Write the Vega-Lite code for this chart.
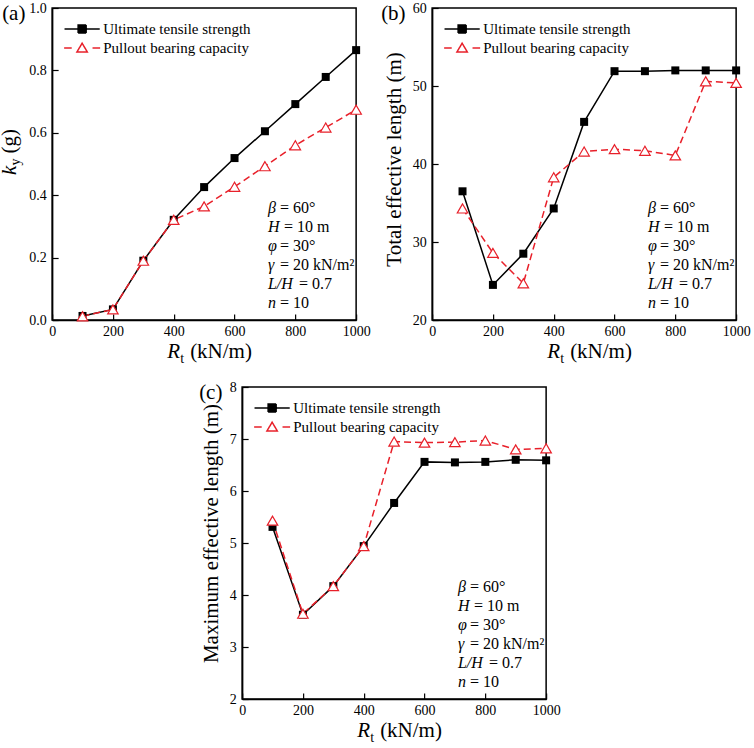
{
  "$schema": "https://vega.github.io/schema/vega-lite/v6.json",
  "padding": {"left": -2, "top": 0, "right": 5, "bottom": 0},
  "datasets": {
    "a": [
      {"Rt": 100, "series": "Ultimate tensile strength", "value": 0.013},
      {"Rt": 200, "series": "Ultimate tensile strength", "value": 0.034},
      {"Rt": 300, "series": "Ultimate tensile strength", "value": 0.19},
      {"Rt": 400, "series": "Ultimate tensile strength", "value": 0.321},
      {"Rt": 500, "series": "Ultimate tensile strength", "value": 0.426},
      {"Rt": 600, "series": "Ultimate tensile strength", "value": 0.519},
      {"Rt": 700, "series": "Ultimate tensile strength", "value": 0.605},
      {"Rt": 800, "series": "Ultimate tensile strength", "value": 0.692},
      {"Rt": 900, "series": "Ultimate tensile strength", "value": 0.779},
      {"Rt": 1000, "series": "Ultimate tensile strength", "value": 0.865},
      {"Rt": 100, "series": "Pullout bearing capacity", "value": 0.012},
      {"Rt": 200, "series": "Pullout bearing capacity", "value": 0.034},
      {"Rt": 300, "series": "Pullout bearing capacity", "value": 0.19},
      {"Rt": 400, "series": "Pullout bearing capacity", "value": 0.321},
      {"Rt": 500, "series": "Pullout bearing capacity", "value": 0.364},
      {"Rt": 600, "series": "Pullout bearing capacity", "value": 0.427},
      {"Rt": 700, "series": "Pullout bearing capacity", "value": 0.493},
      {"Rt": 800, "series": "Pullout bearing capacity", "value": 0.56},
      {"Rt": 900, "series": "Pullout bearing capacity", "value": 0.617},
      {"Rt": 1000, "series": "Pullout bearing capacity", "value": 0.674}
    ],
    "b": [
      {"Rt": 100, "series": "Ultimate tensile strength", "value": 36.5},
      {"Rt": 200, "series": "Ultimate tensile strength", "value": 24.5},
      {"Rt": 300, "series": "Ultimate tensile strength", "value": 28.5},
      {"Rt": 400, "series": "Ultimate tensile strength", "value": 34.3},
      {"Rt": 500, "series": "Ultimate tensile strength", "value": 45.4},
      {"Rt": 600, "series": "Ultimate tensile strength", "value": 51.9},
      {"Rt": 700, "series": "Ultimate tensile strength", "value": 51.9},
      {"Rt": 800, "series": "Ultimate tensile strength", "value": 52.0},
      {"Rt": 900, "series": "Ultimate tensile strength", "value": 52.0},
      {"Rt": 1000, "series": "Ultimate tensile strength", "value": 52.0},
      {"Rt": 100, "series": "Pullout bearing capacity", "value": 34.3},
      {"Rt": 200, "series": "Pullout bearing capacity", "value": 28.6},
      {"Rt": 300, "series": "Pullout bearing capacity", "value": 24.7},
      {"Rt": 400, "series": "Pullout bearing capacity", "value": 38.3},
      {"Rt": 500, "series": "Pullout bearing capacity", "value": 41.6},
      {"Rt": 600, "series": "Pullout bearing capacity", "value": 41.9},
      {"Rt": 700, "series": "Pullout bearing capacity", "value": 41.7},
      {"Rt": 800, "series": "Pullout bearing capacity", "value": 41.1},
      {"Rt": 900, "series": "Pullout bearing capacity", "value": 50.6},
      {"Rt": 1000, "series": "Pullout bearing capacity", "value": 50.4}
    ],
    "c": [
      {"Rt": 100, "series": "Ultimate tensile strength", "value": 5.31},
      {"Rt": 200, "series": "Ultimate tensile strength", "value": 3.62},
      {"Rt": 300, "series": "Ultimate tensile strength", "value": 4.17},
      {"Rt": 400, "series": "Ultimate tensile strength", "value": 4.94},
      {"Rt": 500, "series": "Ultimate tensile strength", "value": 5.77},
      {"Rt": 600, "series": "Ultimate tensile strength", "value": 6.56},
      {"Rt": 700, "series": "Ultimate tensile strength", "value": 6.55},
      {"Rt": 800, "series": "Ultimate tensile strength", "value": 6.56},
      {"Rt": 900, "series": "Ultimate tensile strength", "value": 6.6},
      {"Rt": 1000, "series": "Ultimate tensile strength", "value": 6.59},
      {"Rt": 100, "series": "Pullout bearing capacity", "value": 5.43},
      {"Rt": 200, "series": "Pullout bearing capacity", "value": 3.64},
      {"Rt": 300, "series": "Pullout bearing capacity", "value": 4.17},
      {"Rt": 400, "series": "Pullout bearing capacity", "value": 4.94},
      {"Rt": 500, "series": "Pullout bearing capacity", "value": 6.95},
      {"Rt": 600, "series": "Pullout bearing capacity", "value": 6.93},
      {"Rt": 700, "series": "Pullout bearing capacity", "value": 6.94},
      {"Rt": 800, "series": "Pullout bearing capacity", "value": 6.97},
      {"Rt": 900, "series": "Pullout bearing capacity", "value": 6.8},
      {"Rt": 1000, "series": "Pullout bearing capacity", "value": 6.82}
    ]
  },
  "center": true,
  "spacing": 12,
  "resolve": {"scale": {"color": "independent"}, "legend": {"color": "independent"}},
  "vconcat": [
    {
      "bounds": "flush",
      "spacing": 76,
      "resolve": {"scale": {"color": "independent"}, "legend": {"color": "independent"}},
      "hconcat": [
        {
          "width": 304,
          "height": 312,
          "data": {"name": "a"},
          "resolve": {"scale": {"color": "independent"}, "legend": {"color": "independent"}},
          "layer": [
            {"transform": [{"filter": "datum.series === 'Ultimate tensile strength'"}],
             "mark": {"type": "line", "strokeWidth": 1.5},
             "encoding": {
               "x": {"field": "Rt", "type": "quantitative", "scale": {"domain": [0, 1000], "nice": false},
                     "axis": {"title": null, "format": "d", "values": [0, 100, 200, 300, 400, 500, 600, 700, 800, 900, 1000],
                              "labelExpr": "datum.value % 200 === 0 ? datum.label : ''",
                              "tickSize": {"condition": {"test": "datum.value % 200 !== 0", "value": -3}, "value": -6}}},
               "y": {"field": "value", "type": "quantitative", "scale": {"domain": [0, 1], "nice": false},
                     "axis": {"title": null, "format": ".1f", "values": [0, 0.1, 0.2, 0.3, 0.4, 0.5, 0.6, 0.7, 0.8, 0.9, 1],
                              "labelExpr": "round(datum.value * 10) % 2 === 0 ? datum.label : ''",
                              "tickSize": {"condition": {"test": "round(datum.value * 10) % 2 !== 0", "value": -3}, "value": -6}}},
               "color": {"field": "series", "type": "nominal", "scale": {"range": ["black"]},
                 "legend": {"title": null, "orient": "none", "legendX": 21, "legendY": 12,
                            "symbolType": "M-2.2,0H2.2M-0.5,-0.5H0.5V0.5H-0.5Z",
                            "encode": {"symbols": {"update": {"fill": {"value": "black"}, "strokeDash": {"value": [1, 0]}}}}}}}},
            {"transform": [{"filter": "datum.series === 'Pullout bearing capacity'"}],
             "mark": {"type": "line", "strokeWidth": 1.5, "strokeDash": [7, 4]},
             "encoding": {
               "x": {"field": "Rt", "type": "quantitative"},
               "y": {"field": "value", "type": "quantitative"},
               "color": {"field": "series", "type": "nominal", "scale": {"range": ["#e8202a"]},
                 "legend": {"title": null, "orient": "none", "legendX": 21, "legendY": 31,
                            "symbolType": "M-2.25,0H-1.3M1.3,0H2.25M0,-0.6L0.65,0.5H-0.65Z",
                            "encode": {"symbols": {"update": {"fill": {"value": "white"}, "strokeDash": {"value": [1, 0]}}}}}}}},
            {"transform": [{"filter": "datum.series === 'Ultimate tensile strength'"}],
             "mark": {"type": "point", "shape": "square", "size": 64, "filled": true, "color": "black", "opacity": 1},
             "encoding": {"x": {"field": "Rt", "type": "quantitative"}, "y": {"field": "value", "type": "quantitative"}}},
            {"transform": [{"filter": "datum.series === 'Pullout bearing capacity'"}],
             "mark": {"type": "point", "shape": "triangle-up", "size": 110, "filled": true, "fill": "white", "stroke": "#e8202a", "strokeWidth": 1.2, "opacity": 1},
             "encoding": {"x": {"field": "Rt", "type": "quantitative"}, "y": {"field": "value", "type": "quantitative"}}},
            {"data": {"values": [{}]},
             "mark": {"type": "text", "text": "(a)", "fontSize": 21, "align": "left", "baseline": "alphabetic", "dx": -50, "dy": 12},
             "encoding": {"x": {"datum": 0}, "y": {"datum": 1}}},
            {"data": {"values": [{}]},
             "mark": {"type": "text", "fontStyle": "italic", "fontSize": 16, "align": "left", "baseline": "alphabetic", "lineHeight": 19,
                      "text": ["β", "H", "φ", "γ", "L/H", "n"]},
             "encoding": {"x": {"datum": 710}, "y": {"datum": 0.343}}},
            {"data": {"values": [{}]},
             "mark": {"type": "text", "text": "= 60°", "fontSize": 16, "align": "left", "baseline": "alphabetic", "dx": 12, "dy": 0},
             "encoding": {"x": {"datum": 710}, "y": {"datum": 0.343}}},
            {"data": {"values": [{}]},
             "mark": {"type": "text", "text": "= 10 m", "fontSize": 16, "align": "left", "baseline": "alphabetic", "dx": 16, "dy": 19},
             "encoding": {"x": {"datum": 710}, "y": {"datum": 0.343}}},
            {"data": {"values": [{}]},
             "mark": {"type": "text", "text": "= 30°", "fontSize": 16, "align": "left", "baseline": "alphabetic", "dx": 12, "dy": 38},
             "encoding": {"x": {"datum": 710}, "y": {"datum": 0.343}}},
            {"data": {"values": [{}]},
             "mark": {"type": "text", "text": "= 20 kN/m²", "fontSize": 16, "align": "left", "baseline": "alphabetic", "dx": 12, "dy": 57},
             "encoding": {"x": {"datum": 710}, "y": {"datum": 0.343}}},
            {"data": {"values": [{}]},
             "mark": {"type": "text", "text": "= 0.7", "fontSize": 16, "align": "left", "baseline": "alphabetic", "dx": 31, "dy": 76},
             "encoding": {"x": {"datum": 710}, "y": {"datum": 0.343}}},
            {"data": {"values": [{}]},
             "mark": {"type": "text", "text": "= 10", "fontSize": 16, "align": "left", "baseline": "alphabetic", "dx": 12, "dy": 95},
             "encoding": {"x": {"datum": 710}, "y": {"datum": 0.343}}},
            {"data": {"values": [{}]},
             "mark": {"type": "text", "text": "R", "fontStyle": "italic", "fontSize": 21, "align": "left", "baseline": "alphabetic", "dx": -37, "dy": 38},
             "encoding": {"x": {"datum": 500}, "y": {"datum": 0}}},
            {"data": {"values": [{}]},
             "mark": {"type": "text", "text": "t", "fontSize": 14, "align": "left", "baseline": "alphabetic", "dx": -24, "dy": 43},
             "encoding": {"x": {"datum": 500}, "y": {"datum": 0}}},
            {"data": {"values": [{}]},
             "mark": {"type": "text", "text": "(kN/m)", "fontSize": 21, "align": "left", "baseline": "alphabetic", "dx": -14, "dy": 38},
             "encoding": {"x": {"datum": 500}, "y": {"datum": 0}}},
            {"data": {"values": [{}]},
             "mark": {"type": "text", "text": "k", "fontStyle": "italic", "fontSize": 21, "angle": 270, "align": "left", "baseline": "alphabetic", "dx": -11, "dy": -36},
             "encoding": {"x": {"datum": 0}, "y": {"datum": 0.5}}},
            {"data": {"values": [{}]},
             "mark": {"type": "text", "text": "y", "fontSize": 14, "angle": 270, "align": "left", "baseline": "alphabetic", "dx": -1.5, "dy": -32},
             "encoding": {"x": {"datum": 0}, "y": {"datum": 0.5}}},
            {"data": {"values": [{}]},
             "mark": {"type": "text", "text": "(g)", "fontSize": 21, "angle": 270, "align": "left", "baseline": "alphabetic", "dx": 10.5, "dy": -36},
             "encoding": {"x": {"datum": 0}, "y": {"datum": 0.5}}}
          ]
        },
        {
          "width": 304,
          "height": 312,
          "data": {"name": "b"},
          "resolve": {"scale": {"color": "independent"}, "legend": {"color": "independent"}},
          "layer": [
            {"transform": [{"filter": "datum.series === 'Ultimate tensile strength'"}],
             "mark": {"type": "line", "strokeWidth": 1.5},
             "encoding": {
               "x": {"field": "Rt", "type": "quantitative", "scale": {"domain": [0, 1000], "nice": false},
                     "axis": {"title": null, "format": "d", "values": [0, 100, 200, 300, 400, 500, 600, 700, 800, 900, 1000],
                              "labelExpr": "datum.value % 200 === 0 ? datum.label : ''",
                              "tickSize": {"condition": {"test": "datum.value % 200 !== 0", "value": -3}, "value": -6}}},
               "y": {"field": "value", "type": "quantitative", "scale": {"domain": [20, 60], "nice": false},
                     "axis": {"title": "Total effective length (m)", "titlePadding": 8, "titleY": 151, "format": "d",
                              "values": [20, 22.5, 25, 27.5, 30, 32.5, 35, 37.5, 40, 42.5, 45, 47.5, 50, 52.5, 55, 57.5, 60],
                              "labelExpr": "datum.value % 5 === 0 ? datum.label : ''",
                              "tickSize": {"condition": {"test": "datum.value % 5 !== 0", "value": -3}, "value": -6}}},
               "color": {"field": "series", "type": "nominal", "scale": {"range": ["black"]},
                 "legend": {"title": null, "orient": "none", "legendX": 21, "legendY": 12,
                            "symbolType": "M-2.2,0H2.2M-0.5,-0.5H0.5V0.5H-0.5Z",
                            "encode": {"symbols": {"update": {"fill": {"value": "black"}, "strokeDash": {"value": [1, 0]}}}}}}}},
            {"transform": [{"filter": "datum.series === 'Pullout bearing capacity'"}],
             "mark": {"type": "line", "strokeWidth": 1.5, "strokeDash": [7, 4]},
             "encoding": {
               "x": {"field": "Rt", "type": "quantitative"},
               "y": {"field": "value", "type": "quantitative"},
               "color": {"field": "series", "type": "nominal", "scale": {"range": ["#e8202a"]},
                 "legend": {"title": null, "orient": "none", "legendX": 21, "legendY": 31,
                            "symbolType": "M-2.25,0H-1.3M1.3,0H2.25M0,-0.6L0.65,0.5H-0.65Z",
                            "encode": {"symbols": {"update": {"fill": {"value": "white"}, "strokeDash": {"value": [1, 0]}}}}}}}},
            {"transform": [{"filter": "datum.series === 'Ultimate tensile strength'"}],
             "mark": {"type": "point", "shape": "square", "size": 64, "filled": true, "color": "black", "opacity": 1},
             "encoding": {"x": {"field": "Rt", "type": "quantitative"}, "y": {"field": "value", "type": "quantitative"}}},
            {"transform": [{"filter": "datum.series === 'Pullout bearing capacity'"}],
             "mark": {"type": "point", "shape": "triangle-up", "size": 110, "filled": true, "fill": "white", "stroke": "#e8202a", "strokeWidth": 1.2, "opacity": 1},
             "encoding": {"x": {"field": "Rt", "type": "quantitative"}, "y": {"field": "value", "type": "quantitative"}}},
            {"data": {"values": [{}]},
             "mark": {"type": "text", "text": "(b)", "fontSize": 21, "align": "left", "baseline": "alphabetic", "dx": -51, "dy": 12},
             "encoding": {"x": {"datum": 0}, "y": {"datum": 60}}},
            {"data": {"values": [{}]},
             "mark": {"type": "text", "fontStyle": "italic", "fontSize": 16, "align": "left", "baseline": "alphabetic", "lineHeight": 19,
                      "text": ["β", "H", "φ", "γ", "L/H", "n"]},
             "encoding": {"x": {"datum": 710}, "y": {"datum": 33.72}}},
            {"data": {"values": [{}]},
             "mark": {"type": "text", "text": "= 60°", "fontSize": 16, "align": "left", "baseline": "alphabetic", "dx": 12, "dy": 0},
             "encoding": {"x": {"datum": 710}, "y": {"datum": 33.72}}},
            {"data": {"values": [{}]},
             "mark": {"type": "text", "text": "= 10 m", "fontSize": 16, "align": "left", "baseline": "alphabetic", "dx": 16, "dy": 19},
             "encoding": {"x": {"datum": 710}, "y": {"datum": 33.72}}},
            {"data": {"values": [{}]},
             "mark": {"type": "text", "text": "= 30°", "fontSize": 16, "align": "left", "baseline": "alphabetic", "dx": 12, "dy": 38},
             "encoding": {"x": {"datum": 710}, "y": {"datum": 33.72}}},
            {"data": {"values": [{}]},
             "mark": {"type": "text", "text": "= 20 kN/m²", "fontSize": 16, "align": "left", "baseline": "alphabetic", "dx": 12, "dy": 57},
             "encoding": {"x": {"datum": 710}, "y": {"datum": 33.72}}},
            {"data": {"values": [{}]},
             "mark": {"type": "text", "text": "= 0.7", "fontSize": 16, "align": "left", "baseline": "alphabetic", "dx": 31, "dy": 76},
             "encoding": {"x": {"datum": 710}, "y": {"datum": 33.72}}},
            {"data": {"values": [{}]},
             "mark": {"type": "text", "text": "= 10", "fontSize": 16, "align": "left", "baseline": "alphabetic", "dx": 12, "dy": 95},
             "encoding": {"x": {"datum": 710}, "y": {"datum": 33.72}}},
            {"data": {"values": [{}]},
             "mark": {"type": "text", "text": "R", "fontStyle": "italic", "fontSize": 21, "align": "left", "baseline": "alphabetic", "dx": -37, "dy": 38},
             "encoding": {"x": {"datum": 500}, "y": {"datum": 20}}},
            {"data": {"values": [{}]},
             "mark": {"type": "text", "text": "t", "fontSize": 14, "align": "left", "baseline": "alphabetic", "dx": -24, "dy": 43},
             "encoding": {"x": {"datum": 500}, "y": {"datum": 20}}},
            {"data": {"values": [{}]},
             "mark": {"type": "text", "text": "(kN/m)", "fontSize": 21, "align": "left", "baseline": "alphabetic", "dx": -14, "dy": 38},
             "encoding": {"x": {"datum": 500}, "y": {"datum": 20}}}
          ]
        }
      ]
    },
    {
      "width": 304,
      "height": 312,
      "data": {"name": "c"},
      "resolve": {"scale": {"color": "independent"}, "legend": {"color": "independent"}},
      "layer": [
        {"transform": [{"filter": "datum.series === 'Ultimate tensile strength'"}],
         "mark": {"type": "line", "strokeWidth": 1.5},
         "encoding": {
           "x": {"field": "Rt", "type": "quantitative", "scale": {"domain": [0, 1000], "nice": false},
                 "axis": {"title": null, "format": "d", "values": [0, 100, 200, 300, 400, 500, 600, 700, 800, 900, 1000],
                          "labelExpr": "datum.value % 200 === 0 ? datum.label : ''",
                          "tickSize": {"condition": {"test": "datum.value % 200 !== 0", "value": -3}, "value": -6}}},
           "y": {"field": "value", "type": "quantitative", "scale": {"domain": [2, 8], "nice": false},
                 "axis": {"title": "Maximum effective length (m)", "titlePadding": 8, "titleY": 146, "format": "d",
                          "values": [2, 2.5, 3, 3.5, 4, 4.5, 5, 5.5, 6, 6.5, 7, 7.5, 8],
                          "labelExpr": "datum.value % 1 === 0 ? datum.label : ''",
                          "tickSize": {"condition": {"test": "datum.value % 1 !== 0", "value": -3}, "value": -6}}},
           "color": {"field": "series", "type": "nominal", "scale": {"range": ["black"]},
             "legend": {"title": null, "orient": "none", "legendX": 21, "legendY": 12,
                        "symbolType": "M-2.2,0H2.2M-0.5,-0.5H0.5V0.5H-0.5Z",
                        "encode": {"symbols": {"update": {"fill": {"value": "black"}, "strokeDash": {"value": [1, 0]}}}}}}}},
        {"transform": [{"filter": "datum.series === 'Pullout bearing capacity'"}],
         "mark": {"type": "line", "strokeWidth": 1.5, "strokeDash": [7, 4]},
         "encoding": {
           "x": {"field": "Rt", "type": "quantitative"},
           "y": {"field": "value", "type": "quantitative"},
           "color": {"field": "series", "type": "nominal", "scale": {"range": ["#e8202a"]},
             "legend": {"title": null, "orient": "none", "legendX": 21, "legendY": 31,
                        "symbolType": "M-2.25,0H-1.3M1.3,0H2.25M0,-0.6L0.65,0.5H-0.65Z",
                        "encode": {"symbols": {"update": {"fill": {"value": "white"}, "strokeDash": {"value": [1, 0]}}}}}}}},
        {"transform": [{"filter": "datum.series === 'Ultimate tensile strength'"}],
         "mark": {"type": "point", "shape": "square", "size": 64, "filled": true, "color": "black", "opacity": 1},
         "encoding": {"x": {"field": "Rt", "type": "quantitative"}, "y": {"field": "value", "type": "quantitative"}}},
        {"transform": [{"filter": "datum.series === 'Pullout bearing capacity'"}],
         "mark": {"type": "point", "shape": "triangle-up", "size": 110, "filled": true, "fill": "white", "stroke": "#e8202a", "strokeWidth": 1.2, "opacity": 1},
         "encoding": {"x": {"field": "Rt", "type": "quantitative"}, "y": {"field": "value", "type": "quantitative"}}},
        {"data": {"values": [{}]},
         "mark": {"type": "text", "text": "(c)", "fontSize": 21, "align": "left", "baseline": "alphabetic", "dx": -43, "dy": 12},
         "encoding": {"x": {"datum": 0}, "y": {"datum": 8}}},
        {"data": {"values": [{}]},
         "mark": {"type": "text", "fontStyle": "italic", "fontSize": 16, "align": "left", "baseline": "alphabetic", "lineHeight": 19,
                  "text": ["β", "H", "φ", "γ", "L/H", "n"]},
         "encoding": {"x": {"datum": 710}, "y": {"datum": 4.058}}},
        {"data": {"values": [{}]},
         "mark": {"type": "text", "text": "= 60°", "fontSize": 16, "align": "left", "baseline": "alphabetic", "dx": 12, "dy": 0},
         "encoding": {"x": {"datum": 710}, "y": {"datum": 4.058}}},
        {"data": {"values": [{}]},
         "mark": {"type": "text", "text": "= 10 m", "fontSize": 16, "align": "left", "baseline": "alphabetic", "dx": 16, "dy": 19},
         "encoding": {"x": {"datum": 710}, "y": {"datum": 4.058}}},
        {"data": {"values": [{}]},
         "mark": {"type": "text", "text": "= 30°", "fontSize": 16, "align": "left", "baseline": "alphabetic", "dx": 12, "dy": 38},
         "encoding": {"x": {"datum": 710}, "y": {"datum": 4.058}}},
        {"data": {"values": [{}]},
         "mark": {"type": "text", "text": "= 20 kN/m²", "fontSize": 16, "align": "left", "baseline": "alphabetic", "dx": 12, "dy": 57},
         "encoding": {"x": {"datum": 710}, "y": {"datum": 4.058}}},
        {"data": {"values": [{}]},
         "mark": {"type": "text", "text": "= 0.7", "fontSize": 16, "align": "left", "baseline": "alphabetic", "dx": 31, "dy": 76},
         "encoding": {"x": {"datum": 710}, "y": {"datum": 4.058}}},
        {"data": {"values": [{}]},
         "mark": {"type": "text", "text": "= 10", "fontSize": 16, "align": "left", "baseline": "alphabetic", "dx": 12, "dy": 95},
         "encoding": {"x": {"datum": 710}, "y": {"datum": 4.058}}},
        {"data": {"values": [{}]},
         "mark": {"type": "text", "text": "R", "fontStyle": "italic", "fontSize": 21, "align": "left", "baseline": "alphabetic", "dx": -37, "dy": 38},
         "encoding": {"x": {"datum": 500}, "y": {"datum": 2}}},
        {"data": {"values": [{}]},
         "mark": {"type": "text", "text": "t", "fontSize": 14, "align": "left", "baseline": "alphabetic", "dx": -24, "dy": 43},
         "encoding": {"x": {"datum": 500}, "y": {"datum": 2}}},
        {"data": {"values": [{}]},
         "mark": {"type": "text", "text": "(kN/m)", "fontSize": 21, "align": "left", "baseline": "alphabetic", "dx": -14, "dy": 38},
         "encoding": {"x": {"datum": 500}, "y": {"datum": 2}}}
      ]
    }
  ],
  "config": {
    "font": "Liberation Serif",
    "view": {"stroke": "black", "strokeWidth": 1.5},
    "axis": {"labelFont": "Liberation Serif", "labelFontSize": 14, "labelColor": "black",
             "titleFont": "Liberation Serif", "titleFontSize": 21, "titleFontWeight": "normal", "titleColor": "black",
             "domainColor": "black", "domainWidth": 1.5, "tickColor": "black", "tickWidth": 1.2,
             "grid": false, "labelFlush": false, "labelOverlap": false},
    "axisX": {"labelPadding": 10},
    "axisY": {"labelPadding": 12},
    "legend": {"symbolSize": 256, "symbolStrokeWidth": 1.5, "labelOffset": 12,
               "labelFont": "Liberation Serif", "labelFontSize": 15, "labelColor": "black", "padding": 0},
    "text": {"font": "Liberation Serif", "color": "black"}
  }
}
